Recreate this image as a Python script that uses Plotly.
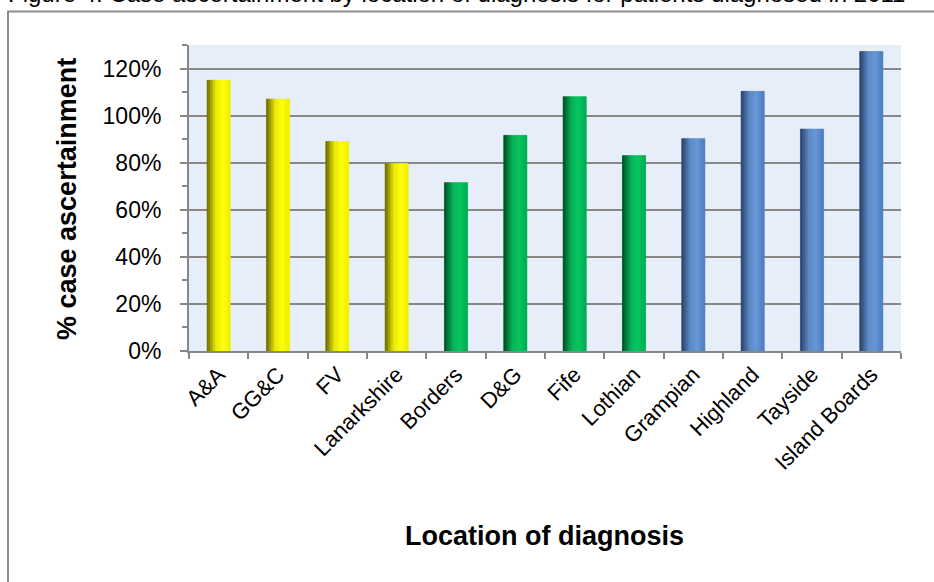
import numpy as np
import plotly.graph_objects as go

# Case ascertainment by NHS board of diagnosis
categories = ["A&A", "GG&C", "FV", "Lanarkshire", "Borders", "D&G", "Fife",
              "Lothian", "Grampian", "Highland", "Tayside", "Island Boards"]
values = [115.0, 107.0, 89.0, 79.6, 71.5, 91.6, 108.0, 83.0, 90.2, 110.3, 94.3, 127.2]
regions = ["West", "West", "West", "West", "South East", "South East", "South East",
           "South East", "North", "North", "North", "North"]

title_text = "Figure 4: Case ascertainment by location of diagnosis for patients diagnosed in 2011"
x_title = "Location of diagnosis"
y_title = "% case ascertainment"
y_ticks = [0, 20, 40, 60, 80, 100, 120]
y_tick_labels = ["0%", "20%", "40%", "60%", "80%", "100%", "120%"]

# cylinder shading per region: (left shadow, highlight, right edge)
shades = {
    "West": [(95, 95, 0), (255, 255, 10), (238, 238, 0)],
    "South East": [(0, 72, 32), (8, 198, 98), (0, 172, 82)],
    "North": [(38, 62, 98), (104, 152, 216), (78, 124, 188)],
}

BAR_W = 0.39
N_STRIPES = 14
stops = [0.0, 0.38, 0.68, 1.0]


def stripe_color(region, t):
    dark, light, edge = shades[region]
    mid = tuple(0.15 * d + 0.85 * l for d, l in zip(dark, light))
    pts = [dark, mid, light, edge]
    rgb = [np.interp(t, stops, [p[k] for p in pts]) for k in range(3)]
    return "rgb(%d,%d,%d)" % tuple(int(round(c)) for c in rgb)


fig = go.Figure()

# base bars carry the values and the category order
fig.add_trace(go.Bar(
    x=categories, y=values, width=BAR_W,
    marker=dict(color=[stripe_color(r, 0.7) for r in regions], line=dict(width=0)),
    showlegend=False, hoverinfo="x+y",
))

# shaded vertical stripes over each bar
sw = BAR_W / N_STRIPES
for i in range(N_STRIPES):
    t = (i + 0.5) / N_STRIPES
    cols = [stripe_color(r, t) for r in regions]
    fig.add_trace(go.Bar(
        x=categories, y=values, width=sw, offset=-BAR_W / 2 + i * sw,
        marker=dict(color=cols, line=dict(color=cols, width=0.6)),
        showlegend=False, hoverinfo="skip",
    ))

L, R, T, B = 189, 33, 45, 231
W, H = 934, 582
pw, ph = W - L - R, H - T - B


def px_x(x):
    return (x - L) / pw


def px_y(y):
    return (H - B - y) / ph


grid_col = "#878787"
font_main = "Liberation Sans, Arial, sans-serif"

fig.update_layout(
    width=W, height=H,
    margin=dict(l=L, r=R, t=T, b=B, autoexpand=False),
    paper_bgcolor="white",
    plot_bgcolor="#e6eefa",
    barmode="overlay",
    font=dict(family=font_main, color="black"),
    xaxis=dict(
        type="category", tickson="boundaries", ticks="outside", ticklen=6,
        tickwidth=2, tickcolor=grid_col, showline=True, linecolor=grid_col,
        linewidth=2, showgrid=False, tickangle=-45,
        tickfont=dict(size=22, family=font_main), automargin=False,
        range=[-0.5, len(categories) - 0.5],
    ),
    yaxis=dict(
        range=[0, 130], tickmode="array", tickvals=y_ticks, ticktext=y_tick_labels,
        ticks="outside", ticklen=7, tickwidth=2, tickcolor=grid_col, showline=True,
        linecolor=grid_col, linewidth=2, showgrid=True, gridcolor=grid_col,
        gridwidth=2, zeroline=False, tickfont=dict(size=23, family=font_main),
        ticklabelstandoff=14, automargin=False,
        minor=dict(dtick=10, tick0=0, ticks="outside", ticklen=5, tickwidth=2,
                   tickcolor=grid_col, showgrid=False),
    ),
    annotations=[
        dict(text=y_title, textangle=-90, x=px_x(67), y=px_y(199), xref="paper",
             yref="paper", showarrow=False, xanchor="center", yanchor="middle",
             font=dict(size=27, family=font_main, weight="bold")),
        dict(text=x_title, x=px_x(544), y=px_y(536), xref="paper", yref="paper",
             showarrow=False, xanchor="center", yanchor="middle",
             font=dict(size=27, family=font_main, weight="bold")),
        dict(text=title_text, x=px_x(6), y=px_y(-6), xref="paper", yref="paper",
             showarrow=False, xanchor="left", yanchor="middle",
             font=dict(size=24, family=font_main)),
    ],
    shapes=[
        dict(type="rect", xref="paper", yref="paper", x0=px_x(8), x1=px_x(945),
             y0=px_y(11.5), y1=px_y(600), line=dict(color="#8c8c8c", width=2),
             fillcolor="rgba(0,0,0,0)", layer="below"),
    ],
)

fig.write_html("out.html")
